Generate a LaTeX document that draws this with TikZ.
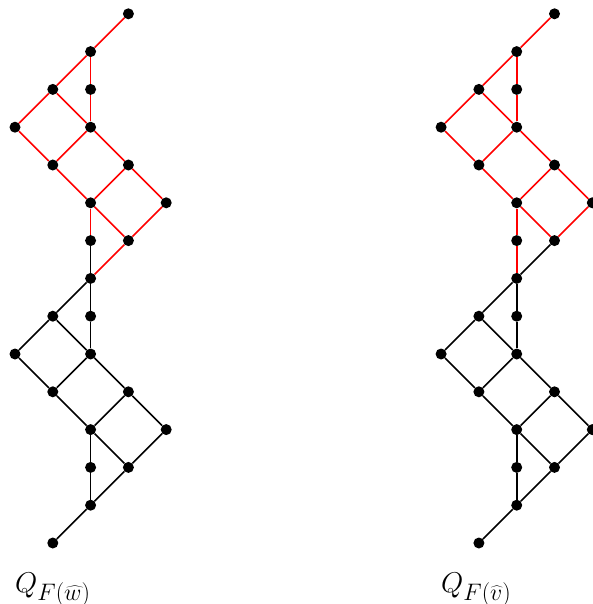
\documentclass[tikz,border=0pt]{standalone}
\tikzset{
  dot/.style={circle,fill=black,inner sep=0pt,minimum size=11pt},
  blk/.style={line width=1.6pt,draw=black},
  rd/.style={line width=1.6pt,draw=red},
  lbl/.style={inner sep=0pt,anchor=base west,font=\Huge,scale=1.15,transform shape}
}
\begin{document}
\begin{tikzpicture}[x=1pt,y=-1pt]
\useasboundingbox (0,0) rectangle (592,604);
\foreach \side/\dx in {L/0,R/426.1} {
  \foreach \i/\j in {3/0,2/1,1/2,2/2,0/3,2/3,1/4,3/4,2/5,4/5,2/6,3/6,2/7,1/8,2/8,0/9,2/9,1/10,3/10,2/11,4/11,2/12,3/12,2/13,1/14}
    \node[dot] (\side-\i-\j) at ({15+\dx+37.8*\i},{13.8+37.8*\j}) {};
  \foreach \a/\b in {3-0/2-1,2-1/1-2,2-1/2-2,2-2/2-3,1-2/0-3,1-2/2-3,0-3/1-4,2-3/1-4,2-3/3-4,1-4/2-5,3-4/2-5,3-4/4-5,2-5/2-6,2-5/3-6,4-5/3-6}
    \draw[rd] (\side-\a) -- (\side-\b);
  \foreach \a/\b in {2-7/1-8,2-7/2-8,2-8/2-9,1-8/0-9,1-8/2-9,0-9/1-10,2-9/1-10,2-9/3-10,1-10/2-11,3-10/2-11,3-10/4-11,2-11/2-12,2-11/3-12,4-11/3-12,2-12/2-13,3-12/2-13,2-13/1-14}
    \draw[blk] (\side-\a) -- (\side-\b);
}
\draw[rd] (L-3-6) -- (L-2-7);
\draw[blk] (L-2-6) -- (L-2-7);
\draw[rd] (R-2-6) -- (R-2-7);
\draw[blk] (R-3-6) -- (R-2-7);
\node[lbl] (lw) at (15,592) {$Q_{F(\widehat{w})}$};
\node[lbl] (lv) at (441,592) {$Q_{F(\widehat{v})}$};
\end{tikzpicture}
\end{document}
